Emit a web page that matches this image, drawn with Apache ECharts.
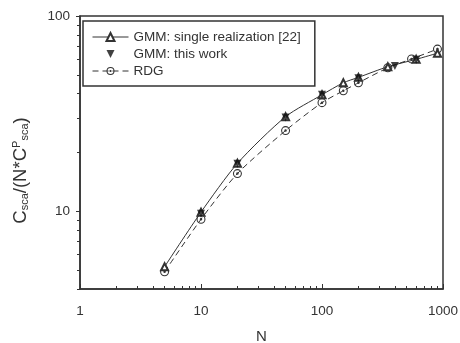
<!DOCTYPE html>
<html>
<head>
<meta charset="utf-8">
<script src="https://cdn.jsdelivr.net/npm/echarts@6/dist/echarts.min.js"></script>
<style>
  html, body { margin: 0; padding: 0; background: #fff; }
  #chart { width: 460px; height: 343px; }
</style>
</head>
<body>
<div id="chart"></div>
<script>
// GMM single realization [22]
const singleN = [5, 10, 20, 50, 100, 150, 200, 350, 600, 900];
const singleVal = [5.2, 9.9, 17.6, 30.5, 39.5, 45.5, 48.5, 55, 60, 64.5];
// GMM this work
const workN = [10, 20, 50, 100, 200, 400, 600];
const workVal = [9.7, 17.5, 30.2, 39.5, 48, 55.5, 59.7];
// RDG
const rdgN = [5, 10, 20, 50, 100, 150, 200, 350, 550, 900];
const rdgVal = [4.9, 9.1, 15.6, 25.9, 36, 41.4, 45.5, 54.3, 60.3, 67.7];

const xLabels = [1, 10, 100, 1000];
const xMinor = [2, 3, 4, 5, 6, 7, 8, 9, 20, 30, 40, 50, 60, 70, 80, 90, 200, 300, 400, 500, 600, 700, 800, 900];
const yLabels = [10, 100];
const yMinor = [4, 5, 6, 7, 8, 9, 20, 30, 40, 50, 60, 70, 80, 90];

const zip = (a, b) => a.map((v, i) => [v, b[i]]);

const ink = '#333';
const font = 'Liberation Sans';
const ringDot = 'path://M0,-5A5,5 0 1,1 0,5A5,5 0 1,1 0,-5ZM0,-3.8A3.8,3.8 0 1,0 0,3.8A3.8,3.8 0 1,0 0,-3.8ZM0,-1.4A1.4,1.4 0 1,1 0,1.4A1.4,1.4 0 1,1 0,-1.4Z';
// down triangle centred in a 36x10 box so the legend icon isn't stretched
const downTriLegend = 'path://M0,0L0.01,0L0.01,0.01ZM36,10L35.99,10L35.99,9.99ZM14,1L22,1L18,9Z';

const chart = echarts.init(document.getElementById('chart'), null, { renderer: 'canvas' });

const logX = (extra) => Object.assign({
  type: 'log',
  logBase: 10,
  min: 1,
  max: 1000,
  position: 'bottom',
  axisLine: { show: true, lineStyle: { color: ink, width: 1.5 } },
  splitLine: { show: false },
  minorTick: { show: false },
}, extra);

const logY = (extra) => Object.assign({
  type: 'log',
  logBase: 10,
  min: 4,
  max: 100,
  position: 'left',
  axisLine: { show: true, lineStyle: { color: ink, width: 1.5 } },
  splitLine: { show: false },
  minorTick: { show: false },
}, extra);

const option = {
  backgroundColor: '#fff',
  animation: false,
  grid: {
    left: 80, right: 17, top: 16, bottom: 54,
    outerBoundsMode: 'none',
    containLabel: false,
    show: true, borderColor: ink, borderWidth: 1.5, backgroundColor: 'transparent',
  },
  legend: {
    orient: 'vertical',
    left: 83, top: 21,
    padding: [9, 14, 8, 9],
    itemWidth: 36, itemHeight: 10, itemGap: 3,
    borderColor: ink, borderWidth: 1.5, borderRadius: 0,
    textStyle: { color: ink, fontFamily: font, fontSize: 13.5 },
    lineStyle: { width: 1 },
    data: [
      { name: 'GMM: single realization [22]' },
      { name: 'GMM: this work', icon: downTriLegend },
      { name: 'RDG' },
    ],
  },
  xAxis: [
    logX({
      name: 'N',
      nameLocation: 'middle',
      nameGap: 40,
      nameTextStyle: { color: ink, fontFamily: font, fontSize: 15 },
      axisTick: { show: true, inside: true, length: 5, customValues: xLabels, lineStyle: { color: ink } },
      axisLabel: { color: ink, fontFamily: font, fontSize: 13.5, margin: 15, customValues: xLabels, formatter: v => String(v) },
    }),
    logX({
      axisLine: { show: false },
      axisTick: { show: true, inside: true, length: 3, customValues: xMinor, lineStyle: { color: ink } },
      axisLabel: { show: false },
    }),
  ],
  yAxis: [
    logY({
      name: 'C{sub|sca}/(N*C{sup|P}{sub|sca})',
      nameLocation: 'middle',
      nameRotate: 90,
      nameGap: 50,
      nameTextStyle: {
        color: ink, fontFamily: font, fontSize: 18.5, padding: [0, 36, 0, 0],
        rich: {
          sub: { fontSize: 11, fontFamily: font, color: ink, verticalAlign: 'bottom', padding: [8, 0, 0, 0] },
          sup: { fontSize: 11, fontFamily: font, color: ink, verticalAlign: 'top', padding: [0, 0, 8, 0] },
        },
      },
      axisTick: { show: true, inside: false, length: 4, customValues: yLabels, lineStyle: { color: ink } },
      axisLabel: { color: ink, fontFamily: font, fontSize: 13.5, margin: 10, customValues: yLabels, formatter: v => String(v) },
    }),
    logY({
      axisLine: { show: false },
      axisTick: { show: true, inside: false, length: 3, customValues: yMinor, lineStyle: { color: ink } },
      axisLabel: { show: false },
    }),
  ],
  series: [
    {
      name: 'GMM: single realization [22]',
      type: 'line',
      smooth: 0.25,
      data: zip(singleN, singleVal),
      symbol: 'emptyTriangle',
      symbolSize: 7,
      itemStyle: { color: ink, borderWidth: 1 },
      lineStyle: { color: ink, width: 1 },
      z: 3,
    },
    {
      name: 'GMM: this work',
      type: 'scatter',
      data: zip(workN, workVal),
      symbol: 'triangle',
      symbolRotate: 180,
      symbolSize: 8,
      itemStyle: { color: '#111' },
      z: 4,
    },
    {
      name: 'RDG',
      type: 'line',
      smooth: 0.25,
      data: zip(rdgN, rdgVal),
      symbol: ringDot,
      symbolSize: 9,
      itemStyle: { color: ink },
      lineStyle: { color: ink, width: 1, type: [6, 4] },
      z: 2,
    },
  ],
};

chart.setOption(option);
</script>
</body>
</html>
